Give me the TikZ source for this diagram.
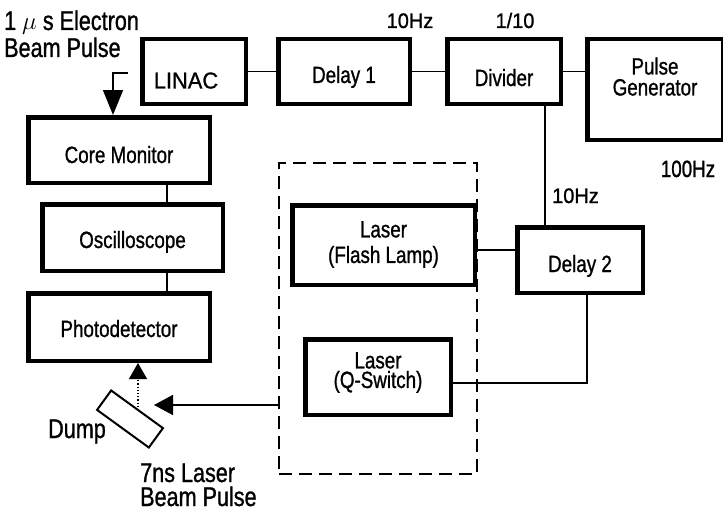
\documentclass[tikz,border=0pt]{standalone}
\usepackage{fontspec}
\setmainfont[FakeStretch=0.8,FakeBold=1]{Liberation Sans}
\newfontfamily\widefont[FakeStretch=0.95,FakeBold=1]{Liberation Sans}
\usetikzlibrary{arrows.meta}
\newcommand\onel[2]{\raisebox{-#1}[0pt][0pt]{#2}}
\newcommand\twol[2]{\raisebox{#1}[0pt][0pt]{\begin{tabular}{@{}c@{}}#2\end{tabular}}}
\newcommand\stackl[3]{\vtop{\baselineskip=#1\hbox{#2}\hbox{#3}}}
\begin{document}
\begin{tikzpicture}[x=1pt, y=-1pt,
  font=\fontsize{23.5}{23.5}\selectfont,
  box/.style={draw, line width=4.5pt, inner sep=0pt},
  conn/.style={line width=1.6pt},
  lbl/.style={inner sep=0pt, font=\fontsize{27}{27}\selectfont},
  hz/.style={inner sep=0pt, font=\widefont\fontsize{21}{21}\selectfont}]
\useasboundingbox (0,0) rectangle (723,511);
% boxes
\node[box, minimum width=103.5pt, minimum height=64.5pt, font=\widefont\fontsize{23}{23}\selectfont] (linac) at (194,71.5) {\onel{17pt}{LINAC\hspace{16pt}}};
\node[box, minimum width=131.5pt, minimum height=64.5pt] (delay1) at (344,71.5) {\onel{11.5pt}{Delay 1}};
\node[box, minimum width=113.5pt, minimum height=64.5pt] (divider) at (504,71.5) {\onel{14.5pt}{Divider}};
\node[box, minimum width=135.5pt, minimum height=100.5pt] (pg) at (655,89.5) {\twol{3.3pt}{Pulse\\[-2.5pt]Generator}};
\node[box, minimum width=181.5pt, minimum height=65.5pt] (cm) at (119,150) {\onel{13pt}{Core Monitor}};
\node[box, minimum width=180.5pt, minimum height=66.5pt] (osc) at (132.5,237.5) {\onel{10.5pt}{Oscilloscope}};
\node[box, minimum width=181.5pt, minimum height=67.5pt] (pd) at (119,327) {\onel{10pt}{Photodetector}};
\node[box, minimum width=182.5pt, minimum height=79.5pt] (fl) at (383.5,245) {\twol{-6.7pt}{Laser\\[1.5pt](Flash Lamp)}};
\node[box, minimum width=145.5pt, minimum height=75.5pt] (qs) at (378,377) {\twol{-2.7pt}{Laser\\[-4.5pt](Q-Switch)}};
\node[box, minimum width=125.5pt, minimum height=65.5pt] (delay2) at (580,260) {\onel{12pt}{Delay 2}};
\node[draw, line width=1.8pt, dash pattern=on 13pt off 7pt, minimum width=198pt, minimum height=311pt, inner sep=0pt] (lbox) at (378,318.5) {};
\node[draw, line width=2pt, minimum width=64pt, minimum height=24pt, inner sep=0pt, rotate=-36] (dump) at (130,419) {};
% connectors
\draw[conn] (linac.east) -- (delay1.west);
\draw[conn] (delay1.east) -- (divider.west);
\draw[conn] (divider.east) -- (divider.east -| pg.west);
\coordinate (v1) at (545,0);
\draw[conn] (divider.south -| v1) -- (delay2.north -| v1);
\coordinate (h1) at (0,250);
\draw[conn] (fl.east |- h1) -- (delay2.west |- h1);
\coordinate (q1) at (587,383);
\draw[conn] (delay2.south -| q1) |- (qs.east |- q1);
\coordinate (c1) at (167,0);
\draw[conn] (cm.south -| c1) -- (osc.north -| c1);
\draw[conn] (osc.south -| c1) -- (pd.north -| c1);
\coordinate (bp) at (128,73);
\coordinate (b1) at (113,0);
\draw[conn, -{Triangle[length=25pt,width=20pt]}] (bp) -| (cm.north -| b1);
\coordinate (lt) at (154,405);
\draw[conn, -{Triangle[length=19pt,width=20pt]}] (lbox.west |- lt) -- (lt);
\coordinate (dt) at (138,407);
\draw[line width=1.2pt, dotted, -{Triangle[length=16pt,width=18pt]}] (dt) -- (pd.south -| dt);
% labels
\node[lbl, anchor=base west] (t1) at (4,30) {\stackl{27pt}{1 $\mu$ s Electron}{Beam Pulse}};
\node[hz, anchor=base] (t2) at (410,28) {10Hz};
\node[hz, anchor=base] (t3) at (515,28) {1/10};
\node[lbl, anchor=base, font=\fontsize{23.5}{23.5}\selectfont] (t4) at (688,177) {100Hz};
\node[hz, anchor=base west] (t5) at (552,203) {10Hz};
\node[lbl, anchor=base west] (t6) at (48,438) {Dump};
\node[lbl, anchor=base west] (t7) at (140,482) {\stackl{24pt}{7ns Laser}{Beam Pulse}};
\end{tikzpicture}
\end{document}
